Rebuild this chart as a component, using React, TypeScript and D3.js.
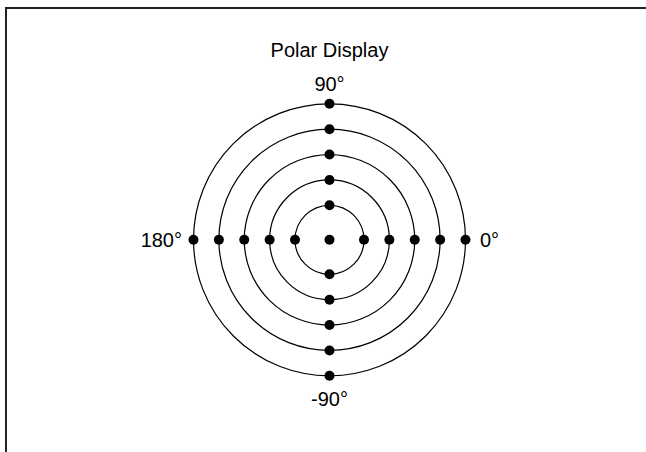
import React, { useEffect } from "react";
import * as d3 from "d3";

const title = "Polar Display";
const ringValues = [1, 2, 3, 4, 5];
const spokeAngles = [0, 90, 180, -90];
const centerValue = 0;
const angleLabels = ["0°", "90°", "180°", "-90°"];

const W = 646;
const H = 452;
const cx = 329.5;
const cy = 239.8;

export default function App() {
  useEffect(() => {
    document.body.style.margin = "0";
    document.body.style.overflow = "hidden";
  }, []);

  const r = d3.scaleLinear().domain([0, 1, 5]).range([0, 34.5, 136]);
  const rad = (deg: number) => (deg * Math.PI) / 180;
  const px = (v: number, a: number) => cx + r(v) * Math.cos(rad(a));
  const py = (v: number, a: number) => cy - r(v) * Math.sin(rad(a));

  const points: { v: number; a: number }[] = [{ v: centerValue, a: 0 }];
  ringValues.forEach((v) => spokeAngles.forEach((a) => points.push({ v, a })));

  const rMax = r(d3.max(ringValues) as number);
  const labelPos: Record<string, { x: number; y: number; anchor: string }> = {
    "0°": { x: cx + rMax + 14.5, y: cy + 7, anchor: "start" },
    "90°": { x: cx, y: cy - rMax - 13, anchor: "middle" },
    "180°": { x: cx - rMax - 11.5, y: cy + 7, anchor: "end" },
    "-90°": { x: cx, y: cy + rMax + 30, anchor: "middle" },
  };

  return (
    <svg
      width={W}
      height={H}
      style={{ position: "absolute", left: 0, top: 0, display: "block" }}
      fontFamily="'Liberation Sans', Arial, sans-serif"
    >
      <rect x={0} y={0} width={W} height={H} fill="#fff" />
      <line x1={6} y1={8} x2={W} y2={8} stroke="#222" strokeWidth={2} />
      <line x1={6} y1={7} x2={6} y2={H} stroke="#222" strokeWidth={2} />
      <text x={cx} y={57} textAnchor="middle" fontSize={20} fill="#000">
        {title}
      </text>
      {ringValues.map((v) => (
        <circle key={v} cx={cx} cy={cy} r={r(v)} fill="none" stroke="#000" strokeWidth={1.2} />
      ))}
      {points.map((p, i) => (
        <circle key={i} cx={px(p.v, p.a)} cy={py(p.v, p.a)} r={5} fill="#000" />
      ))}
      {angleLabels.map((l) => (
        <text
          key={l}
          x={labelPos[l].x}
          y={labelPos[l].y}
          textAnchor={labelPos[l].anchor as any}
          fontSize={20}
          fill="#000"
        >
          {l}
        </text>
      ))}
    </svg>
  );
}
